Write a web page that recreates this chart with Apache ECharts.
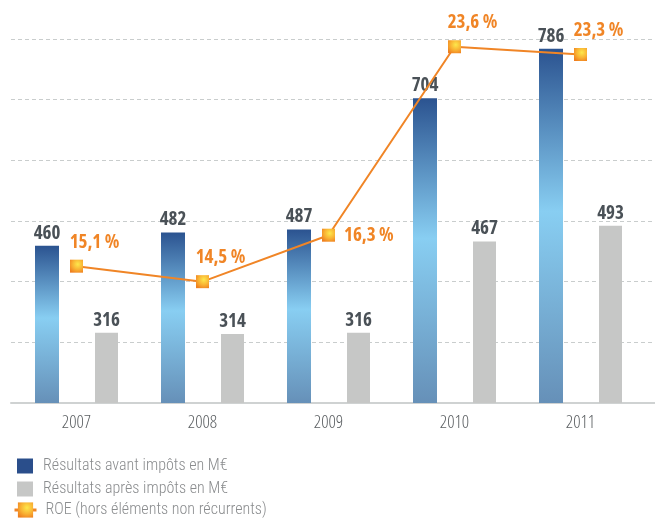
<!DOCTYPE html>
<html>
<head>
<meta charset="utf-8">
<script src="https://cdn.jsdelivr.net/npm/echarts@6/dist/echarts.min.js"></script>
<style>html,body{margin:0;padding:0;background:#fff;}#c{width:655px;height:521px;}</style>
</head>
<body>
<div id="c"></div>
<script>
const categories = ['2007', '2008', '2009', '2010', '2011'];
const avantImpots = [460, 482, 487, 704, 786];
const apresImpots = [316, 314, 316, 467, 493];
const roe = [15.1, 14.5, 16.3, 23.6, 23.3];
const seriesNames = ['Résultats avant impôts en M€', 'Résultats après impôts en M€', 'ROE (hors éléments non récurrents)'];

const FAM = '"Open Sans", Roboto, sans-serif';
const FAM_LIGHT = 'Roboto, "Open Sans", sans-serif';

const blueGrad = new echarts.graphic.LinearGradient(0, 0, 0, 1, [
  { offset: 0, color: '#2b5390' },
  { offset: 0.46, color: '#88cef2' },
  { offset: 1, color: '#6690b8' }
]);
const markerGrad = new echarts.graphic.RadialGradient(0.6, 0.35, 0.75, [
  { offset: 0, color: '#fde84c' },
  { offset: 0.55, color: '#f9b233' },
  { offset: 1, color: '#ef7f1f' }
]);

const roeData = roe.map(function (v, i) {
  const item = { value: v };
  if (i === 2) {
    item.label = { position: 'right', distance: 9, offset: [0, 0] };
  }
  return item;
});

const chart = echarts.init(document.getElementById('c'), null, { renderer: 'canvas' });
chart.setOption({
  animation: false,
  backgroundColor: '#ffffff',
  grid: [
    { left: 13.5, right: 11.5, top: 39, height: 364, containLabel: false },
    { left: 11, right: 0, top: 39, height: 364, containLabel: false }
  ],
  xAxis: [
    {
      type: 'category', gridIndex: 0, data: categories,
      axisLine: { show: false }, axisTick: { show: false },
      axisLabel: { color: '#5b5f62', fontFamily: FAM, fontWeight: '300 condensed', fontSize: 18, margin: 11 }
    },
    {
      type: 'value', gridIndex: 1, min: 0, max: 1,
      axisLine: { show: true, onZero: false, lineStyle: { color: '#cfd2d2', width: 2 } },
      axisTick: { show: false }, axisLabel: { show: false }, splitLine: { show: false }
    }
  ],
  yAxis: [
    { type: 'value', gridIndex: 0, min: 200, max: 802, show: false, splitLine: { show: false } },
    { type: 'value', gridIndex: 0, min: 9.8, max: 23.9, show: false, splitLine: { show: false } },
    {
      type: 'value', gridIndex: 1, min: 200, max: 800, interval: 100,
      axisLine: { show: false }, axisTick: { show: false }, axisLabel: { show: false },
      splitLine: { show: true, lineStyle: { color: '#c9cdcd', width: 1, type: [4, 3] } }
    }
  ],
  legend: [
    {
      orient: 'vertical', left: 17, top: 458, padding: 0, itemWidth: 16, itemHeight: 15, itemGap: 7,
      data: [
        { name: seriesNames[0], icon: 'rect', itemStyle: { color: '#2a4e8b' } },
        { name: seriesNames[1], icon: 'rect', itemStyle: { color: '#c6c7c6' } }
      ],
      textStyle: { color: '#8a8c8e', fontFamily: FAM_LIGHT, fontWeight: '300 condensed', fontSize: 16, padding: [0, 0, 0, 5] },
      selectedMode: false
    },
    {
      orient: 'vertical', left: 13, top: 502, padding: 0, itemWidth: 22, itemHeight: 19,
      data: [{ name: seriesNames[2] }],
      lineStyle: { width: 3 },
      textStyle: { color: '#8a8c8e', fontFamily: FAM_LIGHT, fontWeight: '300 condensed', fontSize: 16, padding: [0, 0, 0, 4] },
      selectedMode: false
    }
  ],
  series: [
    {
      name: seriesNames[0], type: 'bar', xAxisIndex: 0, yAxisIndex: 0,
      data: avantImpots, barWidth: 24, barGap: '150%',
      itemStyle: { color: blueGrad },
      label: { show: true, position: 'top', distance: 3, color: '#4a5157', fontFamily: FAM, fontWeight: 'bold condensed', fontSize: 19 }
    },
    {
      name: seriesNames[1], type: 'bar', xAxisIndex: 0, yAxisIndex: 0,
      data: apresImpots, barWidth: 23, barGap: '150%',
      itemStyle: { color: '#c6c7c6' },
      label: { show: true, position: 'top', distance: 3, color: '#4a5157', fontFamily: FAM, fontWeight: 'bold condensed', fontSize: 19 }
    },
    {
      name: seriesNames[2], type: 'line', xAxisIndex: 0, yAxisIndex: 1,
      data: roeData, symbol: 'rect', symbolSize: 13, z: 5,
      lineStyle: { color: '#f08526', width: 2 },
      itemStyle: { color: markerGrad, borderWidth: 0 },
      label: {
        show: true, position: 'top', distance: 5, offset: [18, -3],
        color: '#f08526', fontFamily: FAM, fontWeight: 'bold condensed', fontSize: 19,
        formatter: function (p) { return p.value.toFixed(1).replace('.', ',') + ' %'; }
      }
    }
  ]
});
</script>
</body>
</html>
